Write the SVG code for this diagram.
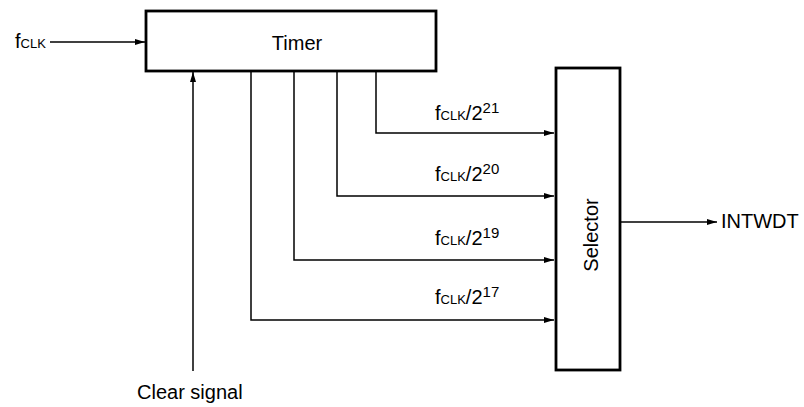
<svg xmlns="http://www.w3.org/2000/svg" width="804" height="407" viewBox="0 0 804 407">
<style>
text{font-family:"Liberation Sans",Arial,sans-serif;fill:#000;font-size:20px}
.box{fill:#fff;stroke:#000;stroke-width:2.8}
.ln{fill:none;stroke:#000;stroke-width:1.5}
.sm{font-size:13px}
.sup{font-size:15px}
</style>
<defs>
<marker id="ah" markerWidth="10" markerHeight="6" refX="10" refY="3" orient="auto" markerUnits="userSpaceOnUse">
<path d="M0,0 L10,3 L0,6 Z" fill="#000"/>
</marker>
</defs>
<g id="connectors">
<line class="ln" x1="50" y1="42" x2="145" y2="42" marker-end="url(#ah)"/>
<line class="ln" x1="193" y1="371" x2="193" y2="72" marker-end="url(#ah)"/>
<polyline class="ln" points="376,72 376,133 554,133" marker-end="url(#ah)"/>
<polyline class="ln" points="337,72 337,196 554,196" marker-end="url(#ah)"/>
<polyline class="ln" points="294,72 294,260 554,260" marker-end="url(#ah)"/>
<polyline class="ln" points="251,72 251,320 554,320" marker-end="url(#ah)"/>
<line class="ln" x1="621" y1="222" x2="717" y2="222" marker-end="url(#ah)"/>
</g>
<g id="timer">
<rect class="box" x="146" y="11" width="290" height="60"/>
<text x="297" y="50" text-anchor="middle">Timer</text>
</g>
<g id="selector">
<rect class="box" x="556" y="68" width="64" height="302"/>
<text transform="translate(598,235) rotate(-90)" text-anchor="middle">Selector</text>
</g>
<g id="labels">
<text x="15" y="48">f<tspan class="sm">CLK</tspan></text>
<text x="435" y="120">f<tspan class="sm">CLK</tspan>/2<tspan class="sup" dy="-7">21</tspan></text>
<text x="435" y="181">f<tspan class="sm">CLK</tspan>/2<tspan class="sup" dy="-7">20</tspan></text>
<text x="435" y="245">f<tspan class="sm">CLK</tspan>/2<tspan class="sup" dy="-7">19</tspan></text>
<text x="435" y="304">f<tspan class="sm">CLK</tspan>/2<tspan class="sup" dy="-7">17</tspan></text>
<text x="721" y="228">INTWDT</text>
<text x="137" y="399">Clear signal</text>
</g>
</svg>
